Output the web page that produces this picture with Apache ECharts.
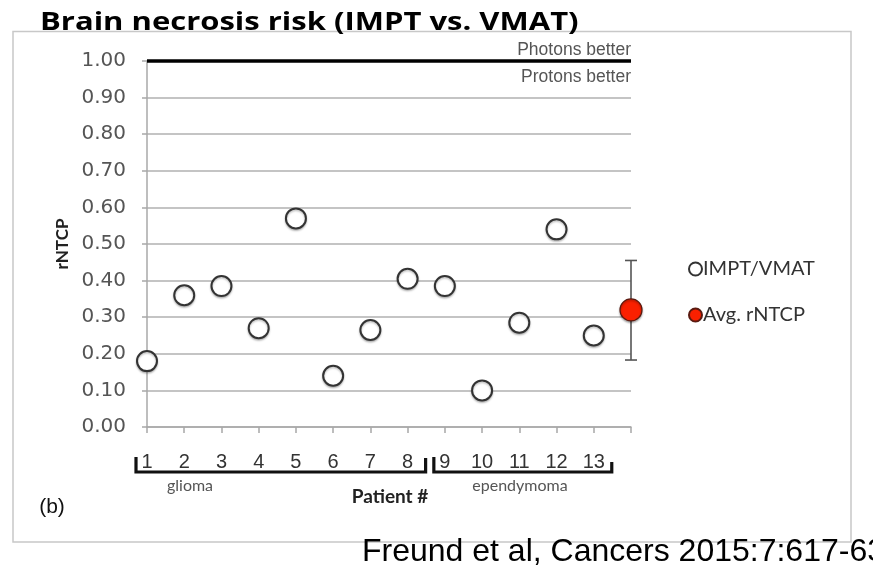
<!DOCTYPE html>
<html>
<head>
<meta charset="utf-8">
<script src="https://cdn.jsdelivr.net/npm/echarts@6/dist/echarts.min.js"></script>
<style>
html,body{margin:0;padding:0;background:#fff;}
#chart{width:873px;height:568px;}
</style>
</head>
<body>
<div id="chart"></div>
<script>
// ---- data ----
var patients = ['1','2','3','4','5','6','7','8','9','10','11','12','13'];
var categories = patients.concat(['Avg']);
var imptVmat = [0.18, 0.36, 0.385, 0.27, 0.57, 0.14, 0.265, 0.405, 0.385, 0.10, 0.285, 0.54, 0.25];
var avgRntcp = 0.32;
var avgErrLow = 0.183;
var avgErrHigh = 0.455;
var yTicks = [0, 0.1, 0.2, 0.3, 0.4, 0.5, 0.6, 0.7, 0.8, 0.9, 1.0];
var groups = [
  {name: 'glioma', from: 0, to: 7},
  {name: 'ependymoma', from: 8, to: 12}
];
var titleText = 'Brain necrosis risk (IMPT vs. VMAT)';

var chart = echarts.init(document.getElementById('chart'), null, {renderer: 'canvas'});

var option = {
  backgroundColor: '#ffffff',
  animation: false,
  legend: {
    orient: 'vertical',
    left: 683, top: 253,
    itemGap: 24,
    itemWidth: 13, itemHeight: 13,
    data: ['IMPT/VMAT', 'Avg. rNTCP'],
    textStyle: {fontFamily: 'Lato', fontSize: 20, color: '#333', padding: [0,0,0,-4], lineHeight: 22}
  },
  grid: {left: 147, right: 242, top: 61, bottom: 141},
  xAxis: {
    type: 'category',
    data: categories,
    boundaryGap: false,
    axisLine: {lineStyle: {color: '#a8a8a8', width: 1.5}},
    axisTick: {show: true, length: 6, lineStyle: {color: '#a8a8a8', width: 1.5}},
    axisLabel: {
      margin: 25, fontFamily: 'Liberation Sans', fontSize: 20, color: '#333',
      interval: 0,
      formatter: function (v) { return patients.indexOf(v) >= 0 ? v : ''; }
    },
    splitLine: {show: false}
  },
  yAxis: {
    type: 'value',
    min: yTicks[0], max: yTicks[yTicks.length - 1], interval: 0.1,
    name: 'rNTCP',
    nameLocation: 'middle',
    nameRotate: 90,
    nameGap: 74,
    nameTextStyle: {fontFamily: 'Lato', fontWeight: 'bold', fontSize: 17, color: '#222'},
    axisLine: {show: true, lineStyle: {color: '#a8a8a8', width: 1.5}},
    axisTick: {show: true, length: 5, lineStyle: {color: '#a8a8a8', width: 1.5}},
    axisLabel: {
      margin: 21, fontFamily: 'DejaVu Sans', fontSize: 20, color: '#555',
      formatter: function (v) { return v.toFixed(2); }
    },
    splitLine: {show: true, lineStyle: {color: '#c4c4c4', width: 2}}
  },
  series: [
    {
      name: 'err',
      type: 'custom',
      z: 1,
      data: [[categories.length - 1, avgErrLow, avgErrHigh]],
      renderItem: function (params, api) {
        var x = api.value(0);
        var lo = api.coord([x, api.value(1)]);
        var hi = api.coord([x, api.value(2)]);
        var cap = 6;
        var st = {stroke: '#555', lineWidth: 1.6};
        return {
          type: 'group',
          children: [
            {type: 'line', shape: {x1: lo[0], y1: lo[1], x2: hi[0], y2: hi[1]}, style: st},
            {type: 'line', shape: {x1: lo[0] - cap, y1: lo[1], x2: lo[0] + cap, y2: lo[1]}, style: st},
            {type: 'line', shape: {x1: hi[0] - cap, y1: hi[1], x2: hi[0] + cap, y2: hi[1]}, style: st}
          ]
        };
      },
      markLine: {
        silent: true,
        symbol: 'none',
        label: {show: false},
        lineStyle: {color: '#000', width: 3.5, type: 'solid'},
        data: [{yAxis: 1}]
      }
    },
    {
      name: 'IMPT/VMAT',
      type: 'scatter',
      z: 3,
      symbol: 'circle',
      symbolSize: 20,
      data: imptVmat.map(function (v, i) { return [i, v]; }),
      itemStyle: {
        opacity: 1,
        color: '#ffffff', borderColor: '#333', borderWidth: 2,
        shadowBlur: 2, shadowColor: 'rgba(0,0,0,0.25)', shadowOffsetY: 1.5
      }
    },
    {
      name: 'Avg. rNTCP',
      type: 'scatter',
      z: 4,
      symbol: 'circle',
      symbolSize: 22,
      data: [[categories.length - 1, avgRntcp]],
      itemStyle: {
        opacity: 1,
        color: '#fa2000', borderColor: '#5a1a10', borderWidth: 1.2,
        shadowBlur: 2, shadowColor: 'rgba(0,0,0,0.3)', shadowOffsetY: 1.5
      }
    }
  ]
};
chart.setOption(option);

// ---- annotations (title, frame, brackets, labels) ----
function px(i) { return chart.convertToPixel({xAxisIndex: 0}, i); }
var bracketY = 472;
var graphics = [
  {type: 'rect', z: 0, shape: {x: 13, y: 31.5, width: 838, height: 510.5},
   style: {fill: null, stroke: '#c8c8c8', lineWidth: 1.5}},
  {type: 'text', z: 10, x: 40, y: 35, scaleX: 1.24, scaleY: 1,
   style: {text: titleText, x: 0, y: 0, textAlign: 'left', textVerticalAlign: 'bottom', font: 'bold 25px "Open Sans"', fill: '#000'}}
];
var bstyle = {stroke: '#111', lineWidth: 3.2, fill: null};
groups.forEach(function (g, k) {
  var x1 = px(g.from) - 11;
  var x2 = px(g.to) + 18;
  graphics.push({type: 'polyline', z: 5, shape: {points: [[x1, bracketY - 15], [x1, bracketY], [x2, bracketY], [x2, bracketY - (k === 0 ? 14 : 10)]]}, style: bstyle});
});
graphics.push({type: 'text', z: 5, style: {text: groups[0].name, x: 190, y: 486, textAlign: 'center', textVerticalAlign: 'middle', font: '16px Lato', fill: '#555'}});
graphics.push({type: 'text', z: 5, style: {text: groups[1].name, x: 520, y: 486, textAlign: 'center', textVerticalAlign: 'middle', font: '16px Lato', fill: '#555'}});
graphics.push({type: 'text', z: 5, style: {text: 'Patient #', x: 390, y: 497, textAlign: 'center', textVerticalAlign: 'middle', font: 'bold 19px Lato', fill: '#222'}});
graphics.push({type: 'text', z: 5, style: {text: '(b)', x: 52, y: 507, textAlign: 'center', textVerticalAlign: 'middle', font: '21px "Liberation Sans"', fill: '#111'}});
graphics.push({type: 'text', z: 5, style: {text: 'Photons better', x: 631, y: 50, textAlign: 'right', textVerticalAlign: 'middle', font: '17.5px "Liberation Sans"', fill: '#555'}});
graphics.push({type: 'text', z: 5, style: {text: 'Protons better', x: 631, y: 77, textAlign: 'right', textVerticalAlign: 'middle', font: '17.5px "Liberation Sans"', fill: '#555'}});
graphics.push({type: 'text', z: 5, style: {text: 'Freund et al, Cancers 2015:7:617-635', x: 362, y: 552, textAlign: 'left', textVerticalAlign: 'middle', font: '32px "Liberation Sans"', fill: '#000'}});
chart.setOption({graphic: graphics});
</script>
</body>
</html>
